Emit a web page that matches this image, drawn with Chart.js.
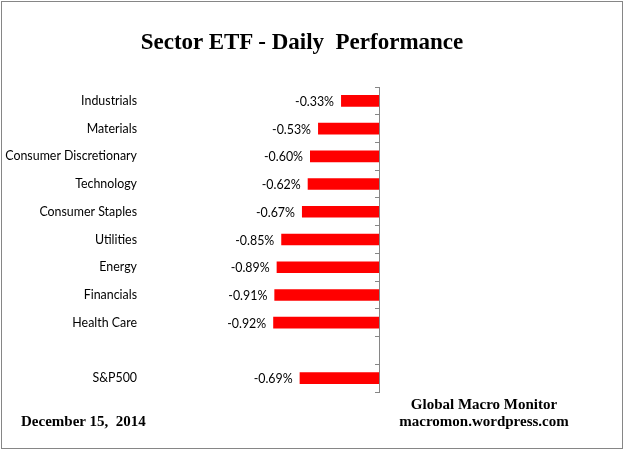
<!DOCTYPE html>
<html>
<head>
<meta charset="utf-8">
<script src="https://cdn.jsdelivr.net/npm/chart.js@4/dist/chart.umd.min.js"></script>
<style>
  body { margin: 0; background: #fff; }
  #wrap { position: relative; width: 625px; height: 451px; }
  #frame { position: absolute; left: 1px; top: 1px; width: 620px; height: 446px; border: 1px solid #868686; }
  .txt { position: absolute; font-family: "Liberation Serif", serif; font-weight: bold; color: #000; white-space: nowrap; }
  #titulo { left: 0; width: 604px; top: 29px; text-align: center; font-size: 23px; }
  #fecha { left: 21px; top: 413px; font-size: 15px; }
  #firma { left: 384px; width: 200px; top: 396px; text-align: center; font-size: 15px; line-height: 17px; }
</style>
</head>
<body>
<div id="wrap">
  <canvas id="grafico" width="625" height="451"></canvas>
  <div id="frame"></div>
  <div class="txt" id="titulo">Sector ETF - Daily&nbsp; Performance</div>
  <div class="txt" id="fecha">December 15,&nbsp; 2014</div>
  <div class="txt" id="firma">Global Macro Monitor<br>macromon.wordpress.com</div>
</div>
<script>
// datos
const sectores = ['Industrials', 'Materials', 'Consumer Discretionary', 'Technology', 'Consumer Staples',
  'Utilities', 'Energy', 'Financials', 'Health Care', '', 'S&P500']
const rendimiento = [-0.33, -0.53, -0.60, -0.62, -0.67, -0.85, -0.89, -0.91, -0.92, null, -0.69]
const ejeMin = -2
const ejeMax = 0

//etiquetas de valor al lado de cada barra
const etiquetas = {
  id: 'etiquetas',
  afterDatasetsDraw(chart) {
    const ctx = chart.ctx
    const meta = chart.getDatasetMeta(0)
    ctx.save()
    ctx.font = '12.4px Lato'
    ctx.fillStyle = '#000'
    ctx.textAlign = 'right'
    ctx.textBaseline = 'middle'
    meta.data.forEach((barra, i) => {
      const v = rendimiento[i]
      if (v === null) return
      ctx.fillText(v.toFixed(2) + '%', barra.x - 7, barra.y + 1)
    })
    ctx.restore()
  }
}

const ctx = document.getElementById('grafico').getContext('2d')
const grafico = new Chart(ctx, {
  type: 'bar',
  data: {
    labels: sectores,
    datasets: [{
      data: rendimiento,
      backgroundColor: '#ff0000',
      categoryPercentage: 1,
      barPercentage: 0.42
    }]
  },
  options: {
    indexAxis: 'y',
    responsive: false,
    animation: false,
    layout: { padding: { top: 87, bottom: 59, left: 4, right: 246 } },
    plugins: { legend: { display: false }, tooltip: { enabled: false } },
    scales: {
      x: { display: false, min: ejeMin, max: ejeMax },
      y: {
        afterFit: s => { s.width = 145 },
        grid: { display: false, drawTicks: false },
        border: { display: false },
        ticks: { padding: 12, color: '#000', font: { family: 'Lato', size: 12.4 } }
      },
      cero: {
        axis: 'y',
        type: 'category',
        labels: sectores,
        position: { x: 0 },
        offset: true,
        grid: { offset: true, drawOnChartArea: false, tickLength: 4, color: '#868686' },
        border: { display: true, color: '#868686' },
        ticks: { display: false }
      }
    }
  },
  plugins: [etiquetas]
})
</script>
</body>
</html>
